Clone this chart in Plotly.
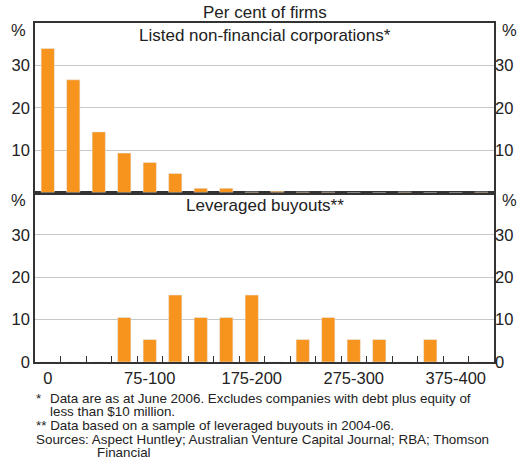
import plotly.graph_objects as go

# size bands of the gearing distribution (x axis)
categories = ["0", "0-25", "25-50", "50-75", "75-100", "100-125", "125-150",
              "150-175", "175-200", "200-225", "225-250", "250-275", "275-300",
              "300-325", "325-350", "350-375", "375-400", "400-425"]
shown_labels = ["0", "75-100", "175-200", "275-300", "375-400"]

# per cent of firms in each band
listed = [34.0, 26.6, 14.3, 9.3, 7.1, 4.5, 1.0, 1.0, 0.1, 0.3, 0.1, 0.1,
          0.0, 0.0, 0.1, 0.0, 0.0, 0.1]
buyouts = [0.0, 0.0, 0.0, 10.5, 5.3, 15.8, 10.5, 10.5, 15.8, 0.0, 5.3, 10.5,
           5.3, 5.3, 0.0, 5.3, 0.0, 0.0]

ORANGE = '#f7941d'
LINE = '#333333'
GRID = '#c3c8cd'
TXT = '#222222'
FONT = 'Arial, Liberation Sans, sans-serif'

W, H = 521, 465
L, R, T, B = 35, 494, 23, 362   # plot area in pixels


def px_x(px):
    return (px - L) / (R - L)


def px_y(py):
    return (B - py) / (B - T)


fig = go.Figure()

fig.add_trace(go.Bar(x=categories, y=listed, marker_color=ORANGE,
                     xaxis='x2', yaxis='y3', hoverinfo='x+y'))
fig.add_trace(go.Scatter(x=[categories[0]], y=[0], mode='markers',
                         marker=dict(opacity=0, size=1), xaxis='x2', yaxis='y4',
                         hoverinfo='skip'))
fig.add_trace(go.Bar(x=categories, y=buyouts, marker_color=ORANGE,
                     xaxis='x', yaxis='y', hoverinfo='x+y'))
fig.add_trace(go.Scatter(x=[categories[0]], y=[0], mode='markers',
                         marker=dict(opacity=0, size=1), xaxis='x', yaxis='y2',
                         hoverinfo='skip'))

ticktext = [c if c in shown_labels else '' for c in categories]
xrange = [-0.5, len(categories) - 0.5]

yleft = dict(range=[0, 40], showgrid=True, gridcolor=GRID, gridwidth=1,
             showline=True, linecolor=LINE, linewidth=1.5, mirror=True,
             ticks='', zeroline=False, automargin=False,
             tickfont=dict(size=16.5, color=TXT))
yright = dict(range=[0, 40], showgrid=False, showline=False, ticks='',
              zeroline=False, side='right', automargin=False,
              tickfont=dict(size=16.5, color=TXT))

fig.update_layout(
    width=W, height=H,
    margin=dict(l=L, r=W - R, t=T, b=H - B, autoexpand=False),
    paper_bgcolor='white', plot_bgcolor='white',
    showlegend=False, bargap=0.48,
    font=dict(family=FONT, size=16, color=TXT),
    xaxis=dict(domain=[0, 1], anchor='y', type='category', range=xrange,
               categoryorder='array', categoryarray=categories,
               tickvals=categories, ticktext=ticktext, tickson='boundaries',
               ticks='inside', ticklen=6, tickcolor=LINE, tickwidth=1,
               tickangle=0, automargin=False,
               showline=True, linecolor=LINE, linewidth=1.5, mirror=True,
               showgrid=False, tickfont=dict(size=16.5, color=TXT)),
    xaxis2=dict(domain=[0, 1], anchor='y3', type='category', range=xrange,
                categoryorder='array', categoryarray=categories,
                showticklabels=False, ticks='', automargin=False,
                showline=True, linecolor=LINE, linewidth=1.5, mirror=True,
                showgrid=False),
    yaxis=dict(domain=[0, 0.5], anchor='x', tickvals=[0, 10, 20, 30], **yleft),
    yaxis2=dict(anchor='x', overlaying='y', tickvals=[0, 10, 20, 30], **yright),
    yaxis3=dict(domain=[0.5, 1], anchor='x2', tickvals=[10, 20, 30], **yleft),
    yaxis4=dict(anchor='x2', overlaying='y3', tickvals=[10, 20, 30], **yright),
)

ann = []


def text(s, px, py, size=16.5, xanchor='center'):
    ann.append(dict(text=s, x=px_x(px), y=px_y(py), xref='paper', yref='paper',
                    showarrow=False, xanchor=xanchor, yanchor='middle',
                    font=dict(size=size, color=TXT, family=FONT)))


text('Per cent of firms', 265, 12, 17)
text('Listed non-financial corporations*', 265, 35, 17)
text('Leveraged buyouts**', 265, 206, 17)
for py in (30, 200):
    text('%', 18, py)
    text('%', 509, py)

fn = 13.4
text('*', 34, 398, fn, 'left')
text('Data are as at June 2006. Excludes companies with debt plus equity of',
     48, 398, fn, 'left')
text('less than $10 million.', 48, 411, fn, 'left')
text('** Data based on a sample of leveraged buyouts in 2004-06.',
     34, 425, fn, 'left')
text('Sources: Aspect Huntley; Australian Venture Capital Journal; RBA; Thomson',
     34, 439, fn, 'left')
text('Financial', 95, 453, fn, 'left')

fig.update_layout(annotations=ann)

# drop the default page margin so the figure sits at the window's corner
fig.write_html("out.html", config={'displayModeBar': False},
               post_script="document.body.style.margin = '0';")
